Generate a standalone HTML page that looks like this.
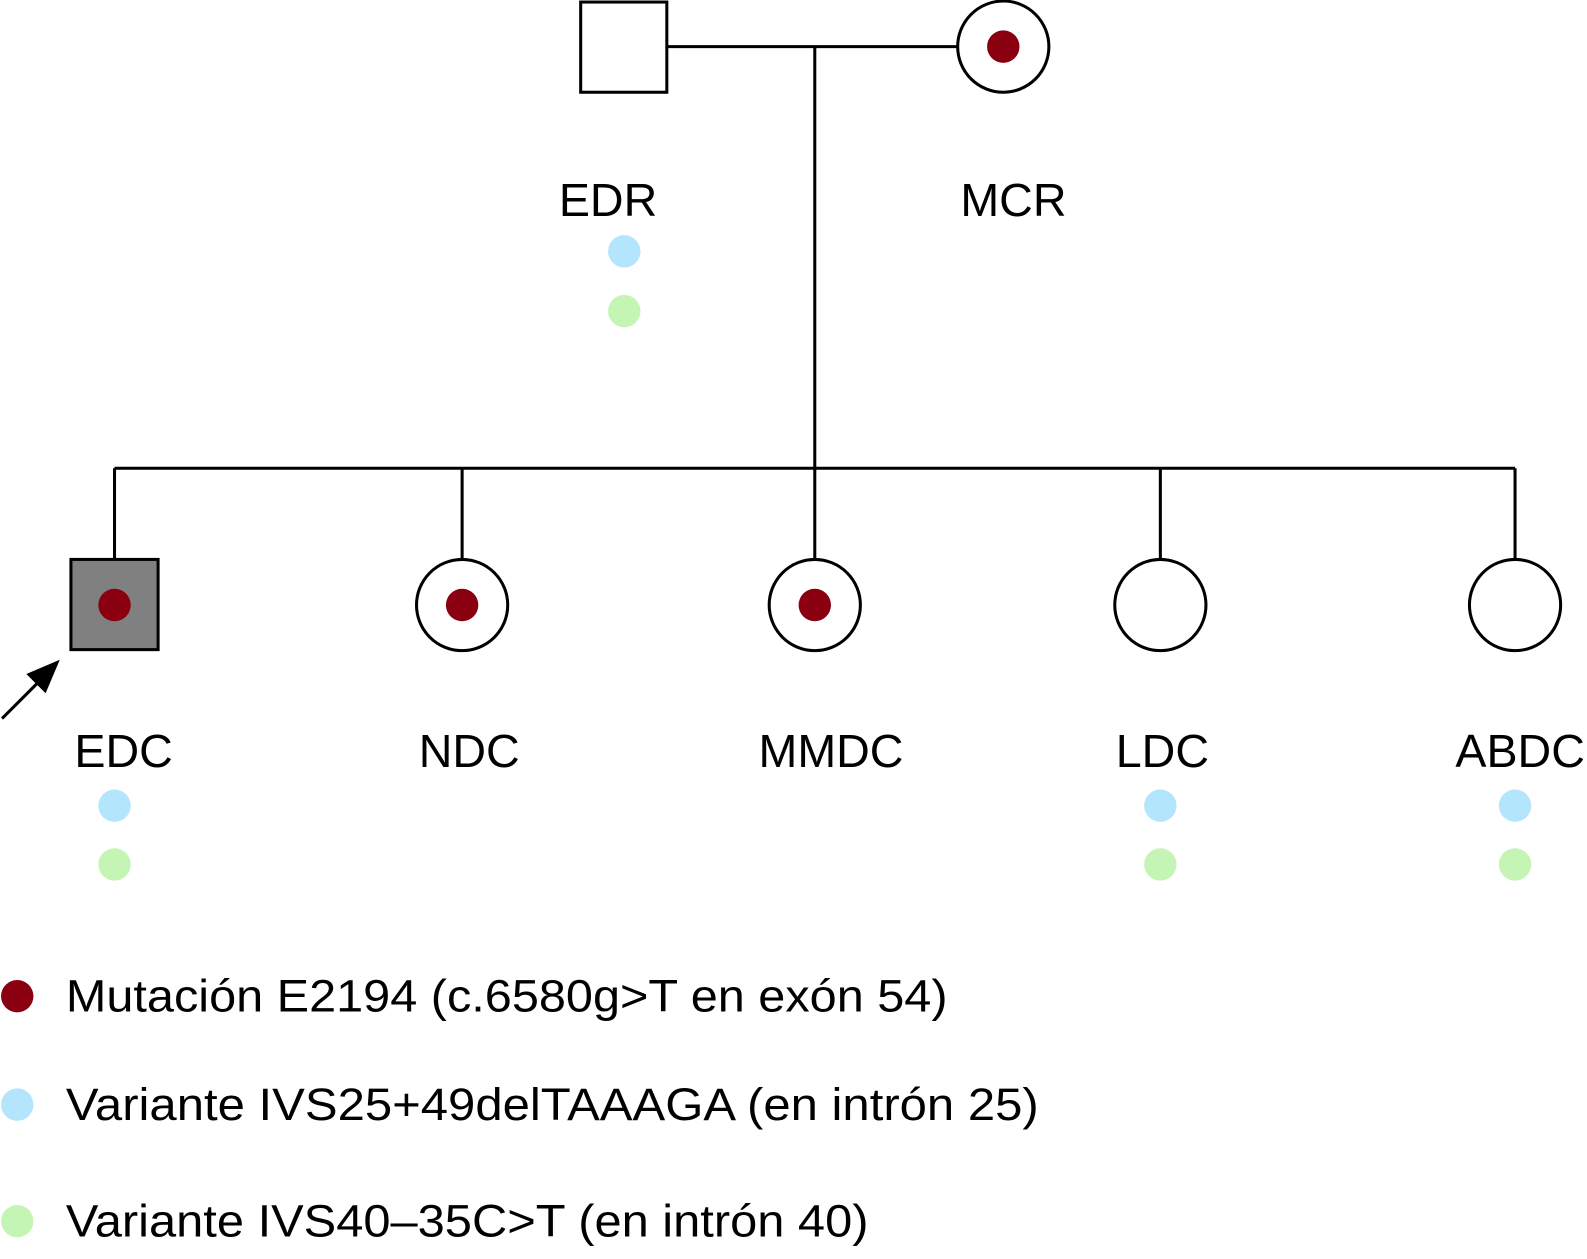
<!DOCTYPE html>
<html><head><meta charset="utf-8"><style>html,body{margin:0;padding:0;background:#fff}svg{display:block}</style></head><body>
<svg width="1587" height="1259" viewBox="0 0 1566 1242.3" xmlns="http://www.w3.org/2000/svg" font-family="Liberation Sans, sans-serif">
<g stroke="#000" stroke-width="3" fill="none">
<line x1="658" y1="46" x2="945" y2="46"/>
<line x1="804" y1="46" x2="804" y2="462"/>
<line x1="113" y1="462" x2="1495" y2="462"/>
<line x1="113" y1="462" x2="113" y2="552"/>
<line x1="456" y1="462" x2="456" y2="552"/>
<line x1="804" y1="462" x2="804" y2="552"/>
<line x1="1145" y1="462" x2="1145" y2="552"/>
<line x1="1495" y1="462" x2="1495" y2="552"/>
<rect x="573" y="2" width="85" height="89" fill="#fff"/>
<circle cx="990" cy="46" r="45" fill="#fff"/>
<rect x="70" y="552" width="86" height="89" fill="#808080"/>
<circle cx="456" cy="597" r="45" fill="#fff"/>
<circle cx="804" cy="597" r="45" fill="#fff"/>
<circle cx="1145" cy="597" r="45" fill="#fff"/>
<circle cx="1495" cy="597" r="45" fill="#fff"/>
<line x1="2" y1="709" x2="42" y2="669"/>
</g>
<polygon points="59,651 26,665 45,684" fill="#000"/>
<g fill="#8b0010">
<circle cx="990" cy="46" r="16"/><circle cx="113" cy="597" r="16"/><circle cx="456" cy="597" r="16"/><circle cx="804" cy="597" r="16"/><circle cx="17" cy="983" r="16"/>
</g>
<g fill="#b3e5fc">
<circle cx="616" cy="248" r="16"/><circle cx="113" cy="795" r="16"/><circle cx="1145" cy="795" r="16"/><circle cx="1495" cy="795" r="16"/><circle cx="17" cy="1090" r="16"/>
</g>
<g fill="#c5f5b5">
<circle cx="616" cy="307" r="16"/><circle cx="113" cy="853" r="16"/><circle cx="1145" cy="853" r="16"/><circle cx="1495" cy="853" r="16"/><circle cx="17" cy="1205" r="16"/>
</g>
<g font-size="46" text-anchor="middle" fill="#000">
<text x="600" y="213">EDR</text><text x="1000" y="213">MCR</text>
<text x="122" y="757">EDC</text><text x="463" y="757">NDC</text><text x="820" y="757">MMDC</text><text x="1147" y="757">LDC</text><text x="1500" y="757">ABDC</text>
</g>
<g font-size="45" fill="#000">
<text x="65" y="998" textLength="870" lengthAdjust="spacingAndGlyphs">Mutación E2194 (c.6580g&gt;T en exón 54)</text>
<text x="65" y="1105" textLength="960" lengthAdjust="spacingAndGlyphs">Variante IVS25+49delTAAAGA (en intrón 25)</text>
<text x="65" y="1220" textLength="792" lengthAdjust="spacingAndGlyphs">Variante IVS40–35C&gt;T (en intrón 40)</text>
</g>
</svg>
</body></html>
